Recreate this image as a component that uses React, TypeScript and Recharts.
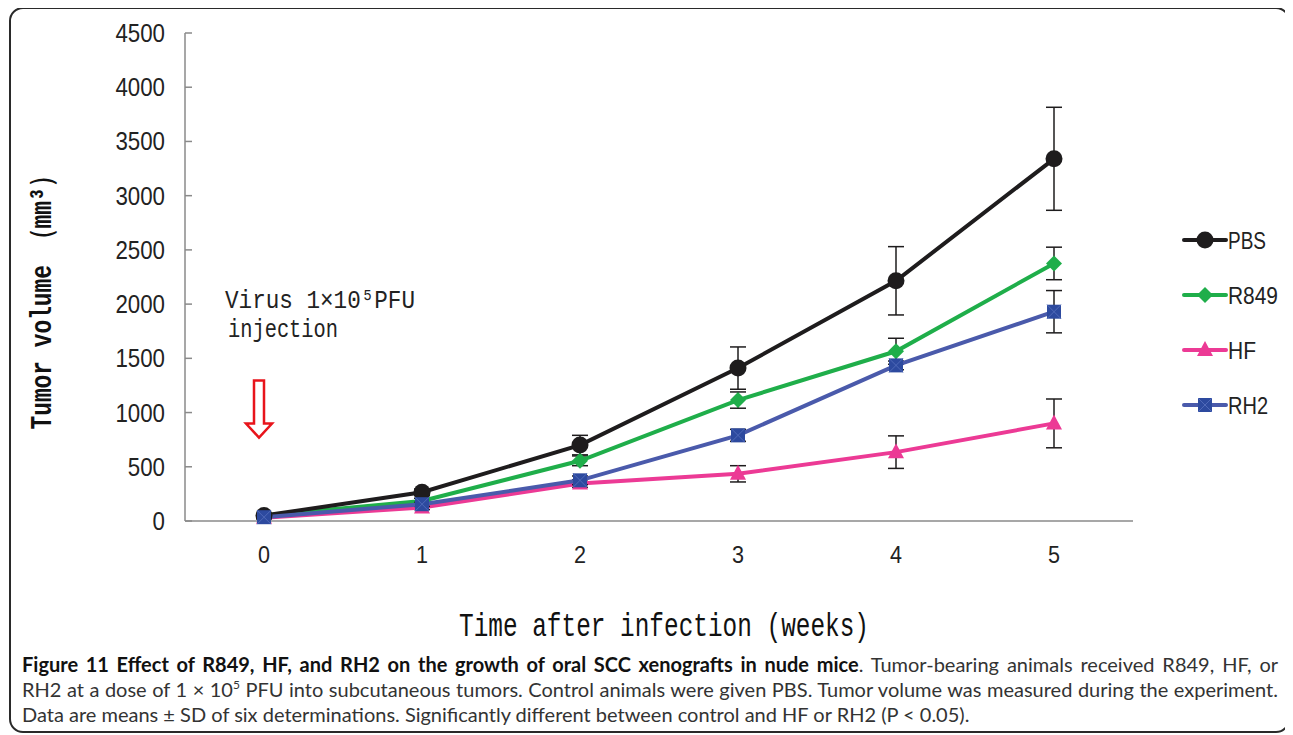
import { LineChart, Line, XAxis, YAxis, ErrorBar, ReferenceDot, Legend, Label } from 'recharts';

const weeks = ['0', '1', '2', '3', '4', '5'];
const yTicks = [0, 500, 1000, 1500, 2000, 2500, 3000, 3500, 4000, 4500];

const pbs = [50, 265, 700, 1410, 2215, 3340];
const pbsSd = [15, 30, 90, 195, 315, 475];
const r849 = [50, 185, 555, 1115, 1565, 2375];
const r849Sd = [10, 25, 45, 75, 120, 150];
const hf = [30, 125, 345, 435, 635, 900];
const hfSd = [10, 20, 35, 75, 150, 225];
const rh2 = [35, 155, 375, 790, 1435, 1930];
const rh2Sd = [10, 20, 40, 55, 40, 195];

const seriesNames = ['PBS', 'R849', 'HF', 'RH2'];
const legendWidths = [38, 50, 28, 40];

const data = weeks.map((w, i) => ({
  week: w,
  pbs: pbs[i], pbsSd: pbsSd[i],
  r849: r849[i], r849Sd: r849Sd[i],
  hf: hf[i], hfSd: hfSd[i],
  rh2: rh2[i], rh2Sd: rh2Sd[i],
}));

const BLACK = '#1e1c1d';
const GREEN = '#1fae4a';
const PINK = '#ec3a95';
const BLUE_LINE = '#4a5aab';
const BLUE = '#2d4a9f';
const AXIS = '#8a8a8a';
const NARROW = '"Liberation Sans", Arial, sans-serif';
const MONO = '"Liberation Mono", "DejaVu Sans Mono", monospace';

if (typeof document !== 'undefined') {
  document.documentElement.style.overflow = 'hidden';
}

function marker(kind: string, cx: number, cy: number, key: string | number) {
  if (kind === 'PBS') return <circle key={key} cx={cx} cy={cy} r={8.5} fill={BLACK} />;
  if (kind === 'R849')
    return <path key={key} d={`M${cx},${cy - 8} L${cx + 8},${cy} L${cx},${cy + 8} L${cx - 8},${cy} Z`} fill={GREEN} />;
  if (kind === 'HF')
    return <path key={key} d={`M${cx},${cy - 9} L${cx + 8},${cy + 6} L${cx - 8},${cy + 6} Z`} fill={PINK} />;
  return (
    <g key={key}>
      <rect x={cx - 7} y={cy - 7} width={14} height={14} fill={BLUE} />
      <path d={`M${cx - 7},${cy - 7} L${cx + 7},${cy + 7} M${cx + 7},${cy - 7} L${cx - 7},${cy + 7}`} stroke="#4f69b8" strokeWidth={1} />
    </g>
  );
}

const dotFor = (kind: string) => (p: any) => marker(kind, p.cx, p.cy, `${kind}-${p.index}`);

const YTick = (props: any) => {
  const { x, y, payload } = props;
  const s = String(payload.value);
  return (
    <g>
      <line x1={x + 20} y1={y} x2={x + 27} y2={y} stroke={AXIS} strokeWidth={1.5} />
      <text x={x} y={y} dy="0.36em" textAnchor="end" fill="#222" fontSize={25} fontFamily={NARROW} textLength={12.4 * s.length} lengthAdjust="spacingAndGlyphs">
        {s}
      </text>
    </g>
  );
};

const XTick = (props: any) => {
  const { x, y, payload } = props;
  return (
    <text x={x} y={y} dy="0.66em" textAnchor="middle" fill="#222" fontSize={24} fontFamily={NARROW} textLength={12} lengthAdjust="spacingAndGlyphs">
      {payload.value}
    </text>
  );
};

const legendColors: Record<string, string> = { PBS: BLACK, R849: GREEN, HF: PINK, RH2: BLUE_LINE };

const LegendBox = () => (
  <svg width={110} height={230} style={{ overflow: 'visible' }}>
    {seriesNames.map((n, i) => {
      const cy = 14 + i * 55;
      return (
        <g key={n}>
          <line x1={2} y1={cy} x2={44} y2={cy} stroke={legendColors[n]} strokeWidth={4} strokeLinecap="round" />
          {marker(n, 23, cy, n)}
          <text x={46} y={cy} dy="0.36em" fontSize={24} fontFamily={NARROW} fill="#222" textLength={legendWidths[i]} lengthAdjust="spacingAndGlyphs">{n}</text>
        </g>
      );
    })}
  </svg>
);

const Arrow = (p: any) => {
  const cx = p.cx - 5;
  const cy = p.cy;
  const d = `M${cx - 5},${cy - 32} L${cx + 5},${cy - 32} L${cx + 5},${cy + 11} L${cx + 13},${cy + 11} L${cx},${cy + 25} L${cx - 13},${cy + 11} L${cx - 5},${cy + 11} Z`;
  return <path d={d} fill="#fff" stroke="#e8141b" strokeWidth={2.5} strokeLinejoin="miter" />;
};

const Note = (p: any) => (
  <g fontFamily={MONO} fontSize={25} fill="#222">
    <text x={p.cx - 39} y={p.cy + 4} textLength={190} lengthAdjust="spacingAndGlyphs">Virus 1×10⁵PFU</text>
    <text x={p.cx - 36} y={p.cy + 33} textLength={110} lengthAdjust="spacingAndGlyphs">injection</text>
  </g>
);

export default function App() {
  return (
    <div style={{ position: 'relative', width: 1282, height: 726, marginTop: -1, fontFamily: 'Lato, sans-serif' }}>
      <div style={{ position: 'absolute', left: 1, top: 0, right: 0, bottom: 0, border: '2px solid #2a2a2a', borderRadius: 14 }} />
      <LineChart width={1282} height={640} data={data} margin={{ top: 26, right: 157, bottom: 0, left: 0 }}>
        <XAxis
          dataKey="week"
          stroke={AXIS}
          strokeWidth={1.5}
          tickLine={false}
          tickMargin={20}
          height={126}
          padding={{ left: 79, right: 79 }}
          tick={<XTick />}
        >
          <Label
            content={(props: any) => {
              const vb = props.viewBox;
              return (
                <text x={vb.x + vb.width / 2 - 205 + 5} y={vb.y + 115} fontFamily={MONO} fontSize={33} fill="#111" textLength={410} lengthAdjust="spacingAndGlyphs">
                  Time after infection (weeks)
                </text>
              );
            }}
          />
        </XAxis>
        <YAxis
          domain={[0, 4500]}
          ticks={yTicks}
          interval={0}
          width={177}
          stroke={AXIS}
          strokeWidth={1.5}
          tickLine={false}
          tickSize={0}
          tickMargin={20}
          tick={<YTick />}
        >
          <Label
            content={(props: any) => {
              const vb = props.viewBox;
              const cy = vb.y + vb.height / 2 + 20;
              return (
                <text x={32} y={cy} transform={`rotate(-90 32 ${cy})`} textAnchor="middle" dy="0.36em" fontFamily={MONO} fontWeight="bold" fontSize={30} fill="#111" textLength={265} lengthAdjust="spacingAndGlyphs">
                  Tumor volume （mm³）
                </text>
              );
            }}
          />
        </YAxis>
        <Legend
          layout="vertical"
          align="right"
          verticalAlign="middle"
          content={<LegendBox />}
          wrapperStyle={{ position: 'absolute', left: 1174, top: 219, width: 0, height: 0, overflow: 'visible' }}
        />
        <ReferenceDot x="0" y={1000} shape={<Arrow />} ifOverflow="visible" />
        <ReferenceDot x="0" y={2000} shape={<Note />} ifOverflow="visible" />
        <Line dataKey="hf" stroke={PINK} strokeWidth={4} dot={dotFor('HF')} isAnimationActive={false}>
          <ErrorBar dataKey="hfSd" width={8} stroke={BLACK} strokeWidth={1.5} direction="y" isAnimationActive={false} />
        </Line>
        <Line dataKey="r849" stroke={GREEN} strokeWidth={4} dot={dotFor('R849')} isAnimationActive={false}>
          <ErrorBar dataKey="r849Sd" width={8} stroke={BLACK} strokeWidth={1.5} direction="y" isAnimationActive={false} />
        </Line>
        <Line dataKey="pbs" stroke={BLACK} strokeWidth={4} dot={dotFor('PBS')} isAnimationActive={false}>
          <ErrorBar dataKey="pbsSd" width={8} stroke={BLACK} strokeWidth={1.5} direction="y" isAnimationActive={false} />
        </Line>
        <Line dataKey="rh2" stroke={BLUE_LINE} strokeWidth={4} dot={dotFor('RH2')} isAnimationActive={false}>
          <ErrorBar dataKey="rh2Sd" width={8} stroke={BLACK} strokeWidth={1.5} direction="y" isAnimationActive={false} />
        </Line>
      </LineChart>
      <div style={{ position: 'absolute', left: 14, top: 645, width: 1256, fontSize: 20, lineHeight: '25px', color: '#333' }}>
        <div style={{ textAlign: 'justify', textAlignLast: 'justify' }}>
          <b style={{ color: '#111' }}>Figure 11 Effect of R849, HF, and RH2 on the growth of oral SCC xenografts in nude mice</b>. Tumor-bearing animals received R849, HF, or
        </div>
        <div style={{ textAlign: 'justify', textAlignLast: 'justify' }}>
          RH2 at a dose of 1 × 10<sup style={{ fontSize: 12, lineHeight: 0 }}>5</sup> PFU into subcutaneous tumors. Control animals were given PBS. Tumor volume was measured during the experiment.
        </div>
        <div>Data are means ± SD of six determinations. Significantly different between control and HF or RH2 (P &lt; 0.05).</div>
      </div>
    </div>
  );
}
